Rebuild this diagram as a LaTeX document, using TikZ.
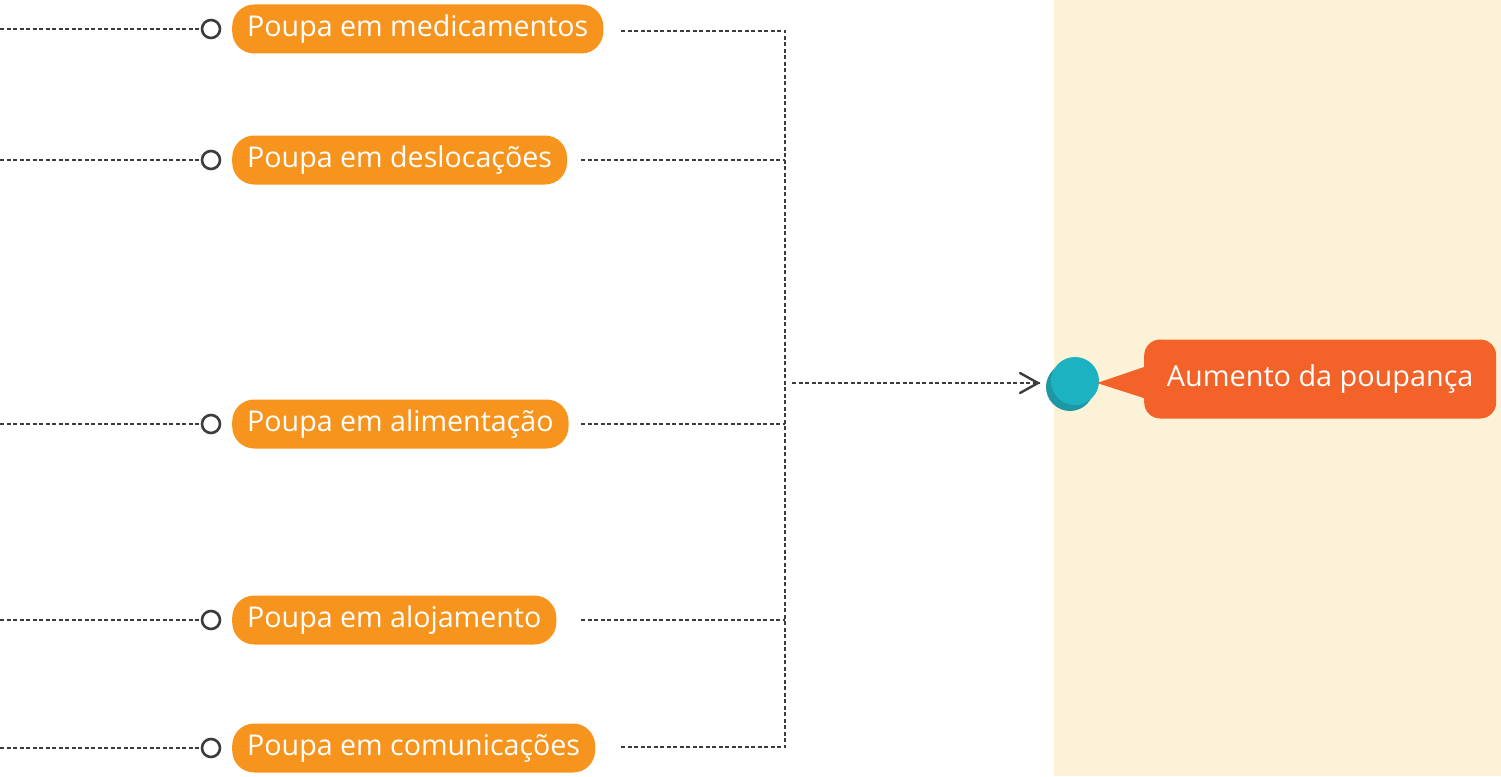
\documentclass[tikz,border=0pt]{standalone}
\usepackage{fontspec}
\setmainfont{Open Sans}
\usetikzlibrary{arrows.meta}
\definecolor{pillorange}{HTML}{F7941D}
\definecolor{callred}{HTML}{F26229}
\definecolor{beige}{HTML}{FCF2D8}
\definecolor{teal1}{HTML}{1CB2C1}
\definecolor{teal2}{HTML}{1E97A5}
\definecolor{lineg}{HTML}{3C3C3C}
\begin{document}
\begin{tikzpicture}[x=1pt,y=-1pt,
  pill/.style={fill=pillorange, rounded corners=22pt, text=white, anchor=west,
    minimum height=49pt, inner xsep=15pt, inner ysep=0pt, font=\fontsize{28.6}{32}\selectfont},
  ring/.style={circle, draw=lineg, line width=2.6pt, fill=white, minimum size=18pt, inner sep=0pt},
  dl/.style={draw=lineg, line width=2pt, dash pattern=on 4pt off 2.5pt}]
\useasboundingbox (0,0) rectangle (1501,776);
\fill[beige] (1054,0) rectangle (1501,776);

% left stubs
\foreach \n/\y in {a/29,b/160,c/424,d/620,e/748}{
  \coordinate (l\n) at (0,\y);
  \node[ring] (r\n) at (211,\y) {};
  \draw[dl] (l\n) -- (r\n.west);
}
\node[pill] (pa) at (232,29) {Poupa em medicamentos};
\node[pill] (pb) at (232,160) {Poupa em deslocações};
\node[pill] (pc) at (232,424) {Poupa em alimentação};
\node[pill] (pd) at (232,620) {Poupa em alojamento};
\node[pill] (pe) at (232,748) {Poupa em comunicações};

% right dashed lines
\coordinate (sa) at (621,31);
\coordinate (sb) at (581,160);
\coordinate (sc) at (581,424);
\coordinate (sd) at (581,620);
\coordinate (se) at (621,747);
\coordinate (ja) at (785,31);
\coordinate (jb) at (785,160);
\coordinate (jc) at (785,424);
\coordinate (jd) at (785,620);
\coordinate (je) at (785,747);
\draw[dl] (sa) -- (ja) -- (je) -- (se);
\draw[dl] (sb) -- (jb);
\draw[dl] (sc) -- (jc);
\draw[dl] (sd) -- (jd);

% teal dot
\fill[teal2] (1070,387) circle (24pt);
\node[circle, fill=teal1, minimum size=48pt, inner sep=0pt] (dot) at (1075,381) {};
\coordinate (as) at (792,383);
\coordinate (ae) at (1040,383);
\draw[dl] (as) -- (ae);
\draw[lineg, line width=2.4pt, line cap=round, line join=miter] (1020,373) -- (1038,383) -- (1020,393);

% callout
\node[fill=callred, rounded corners=16pt, text=white, anchor=west, minimum height=79pt,
  minimum width=352pt, inner sep=0pt, font=\fontsize{28.8}{32}\selectfont] (goal) at (1144,379) {Aumento da poupança};
\fill[callred] (1097,383) -- (1150,365) -- (1150,400) -- cycle;
\end{tikzpicture}
\end{document}
